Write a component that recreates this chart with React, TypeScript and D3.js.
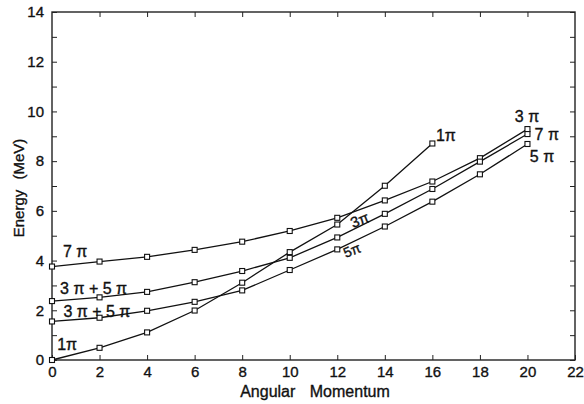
// energy vs angular momentum band chart
import * as d3 from 'd3';
import React, { useEffect, useRef } from 'react';

const momentum = [0, 2, 4, 6, 8, 10, 12, 14, 16, 18, 20];
const band1pi = [0, 0.49, 1.11, 1.99, 3.11, 4.34, 5.45, 7.01, 8.71];
const band7pi = [3.76, 3.96, 4.15, 4.43, 4.76, 5.19, 5.72, 6.42, 7.18, 8.12, 9.29];
const bandUpper = [2.37, 2.52, 2.74, 3.13, 3.58, 4.11, 4.93, 5.88, 6.88, 7.98, 9.09];
const bandLower = [1.55, 1.7, 1.98, 2.34, 2.8, 3.62, 4.45, 5.37, 6.37, 7.47, 8.69];
const xTicks = [0, 2, 4, 6, 8, 10, 12, 14, 16, 18, 20, 22];
const yTicks = [0, 2, 4, 6, 8, 10, 12, 14];

// label text with the momentum/energy spot it sits near
const labels = [
  { text: '7 π', x: 0.46, y: 4.16 },
  { text: '3 π + 5 π', x: 0.34, y: 2.66 },
  { text: '3 π + 5 π', x: 0.48, y: 1.75 },
  { text: '1π', x: 0.22, y: 0.41 },
  { text: '1π', x: 16.15, y: 8.8 },
  { text: '3 π', x: 19.47, y: 9.56 },
  { text: '7 π', x: 20.3, y: 8.86 },
  { text: '5 π', x: 20.1, y: 7.96 }
];

const App = () => {
  const svgRef = useRef(null);

  useEffect(() => {
    const svg = d3.select(svgRef.current);
    svg.selectAll('*').remove();

    const x = d3.scaleLinear().domain([0, 22]).range([52, 575]);
    const y = d3.scaleLinear().domain([0, 14]).range([360, 12]);
    const font = "'Liberation Sans', Arial, sans-serif";

    //frame
    svg
      .append('rect')
      .attr('x', x(0))
      .attr('y', y(14))
      .attr('width', x(22) - x(0))
      .attr('height', y(0) - y(14))
      .attr('fill', 'none')
      .attr('stroke', '#222')
      .attr('stroke-width', 1.4);

    const styleText = (sel) =>
      sel
        .attr('font-family', font)
        .attr('fill', '#111')
        .attr('stroke', '#111')
        .attr('stroke-width', 0.35);

    //bottom axis, ticks pointing in
    svg
      .append('g')
      .attr('transform', `translate(0, ${y(0)})`)
      .call(d3.axisBottom(x).tickValues(xTicks).tickSizeInner(-5).tickSizeOuter(0).tickPadding(6))
      .call((g) => g.select('.domain').remove())
      .call((g) => g.selectAll('text').attr('font-size', 15).call(styleText))
      .call((g) => g.selectAll('line').attr('stroke', '#222'));

    //top axis, ticks only
    svg
      .append('g')
      .attr('transform', `translate(0, ${y(14)})`)
      .call(d3.axisTop(x).tickValues(xTicks.slice(1, -1)).tickSizeInner(-5).tickSizeOuter(0).tickFormat(() => ''))
      .call((g) => g.select('.domain').remove())
      .call((g) => g.selectAll('line').attr('stroke', '#222'));

    //left axis with ticks every 1 MeV
    svg
      .append('g')
      .attr('transform', `translate(${x(0)}, 0)`)
      .call(d3.axisLeft(y).ticks(14).tickSizeInner(-5).tickSizeOuter(0).tickPadding(8)
        .tickFormat((d) => (yTicks.includes(d) ? d : '')))
      .call((g) => g.select('.domain').remove())
      .call((g) => g.selectAll('text').attr('font-size', 15).call(styleText))
      .call((g) => g.selectAll('line').attr('stroke', '#222'));

    //right axis
    svg
      .append('g')
      .attr('transform', `translate(${x(22)}, 0)`)
      .call(d3.axisRight(y).ticks(14).tickSizeInner(-5).tickSizeOuter(0).tickFormat(() => ''))
      .call((g) => g.select('.domain').remove())
      .call((g) => g.selectAll('line').attr('stroke', '#222'));

    const line = d3
      .line()
      .x((d) => x(d[0]))
      .y((d) => y(d[1]));

    [band1pi, band7pi, bandUpper, bandLower].forEach((band) => {
      const pts = band.map((v, i) => [momentum[i], v]);
      svg
        .append('path')
        .attr('d', line(pts))
        .attr('fill', 'none')
        .attr('stroke', '#111')
        .attr('stroke-width', 1.3);
      svg
        .selectAll(null)
        .data(pts)
        .enter()
        .append('rect')
        .attr('x', (d) => x(d[0]) - 2.5)
        .attr('y', (d) => y(d[1]) - 2.5)
        .attr('width', 5)
        .attr('height', 5)
        .attr('fill', 'white')
        .attr('stroke', '#111')
        .attr('stroke-width', 1.1);
    });

    //band labels
    svg
      .selectAll(null)
      .data(labels)
      .enter()
      .append('text')
      .attr('x', (d) => x(d.x))
      .attr('y', (d) => y(d.y))
      .attr('font-size', 16)
      .call(styleText)
      .text((d) => d.text);

    //rotated labels along the middle lines
    svg
      .append('text')
      .attr('transform', `translate(${x(12.66)}, ${y(5.3)}) rotate(-22)`)
      .attr('font-size', 15)
      .call(styleText)
      .text('3π');
    svg
      .append('text')
      .attr('transform', `translate(${x(12.36)}, ${y(4.1)}) rotate(-22)`)
      .attr('font-size', 14)
      .call(styleText)
      .text('5π');

    //axis titles
    svg
      .append('text')
      .attr('x', 315)
      .attr('y', 397)
      .attr('text-anchor', 'middle')
      .attr('font-size', 16)
      .attr('word-spacing', 10)
      .call(styleText)
      .text('Angular Momentum');

    svg
      .append('text')
      .attr('transform', `translate(24, 188) rotate(-90)`)
      .attr('text-anchor', 'middle')
      .attr('font-size', 15)
      .attr('word-spacing', 6)
      .call(styleText)
      .text('Energy (MeV)');
  }, []);

  return (
    <svg
      ref={svgRef}
      width={584}
      height={404}
      style={{ position: 'absolute', left: 0, top: 0, background: 'white' }}
    ></svg>
  );
};

export default App;
